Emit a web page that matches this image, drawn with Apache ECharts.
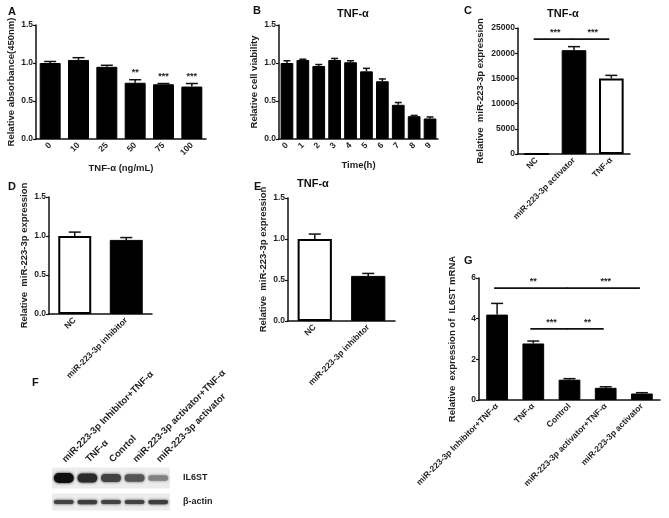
<!DOCTYPE html>
<html><head><meta charset="utf-8">
<script src="https://cdn.jsdelivr.net/npm/echarts@6/dist/echarts.min.js"></script>
<style>html,body{margin:0;padding:0;background:#fff}#c{width:669px;height:518px}</style>
</head><body><div id="c"></div>
<script>
// ---------- DATA ----------
// Panel A
const catsA = ['0','10','25','50','75','100'];
const meanA = [1.00,1.04,0.95,0.74,0.72,0.69];
const errA  = [0.02,0.03,0.02,0.04,0.01,0.04];
const sigA  = ['','','','**','***','***'];
// Panel B
const catsB = ['0','1','2','3','4','5','6','7','8','9'];
const meanB = [1.00,1.04,0.96,1.04,1.01,0.89,0.76,0.45,0.30,0.27];
const errB  = [0.03,0.01,0.02,0.02,0.02,0.04,0.03,0.03,0.01,0.02];
// Panel C
const catsC = ['NC','miR-223-3p activator','TNF-α'];
const meanC = [1,20600,15000];
const errC  = [0,700,600];
const sigC  = [[0,1,22800,'***'],[1,2,22800,'***']];
// Panel D
const catsD = ['NC','miR-223-3p inhibitor'];
const meanD = [1.00,0.95];
const errD  = [0.05,0.03];
// Panel E
const catsE = ['NC','miR-223-3p inhibitor'];
const meanE = [1.00,0.55];
const errE  = [0.06,0.03];
// Panel F (western blot, relative band intensity)
const lanesF = ['miR-223-3p Inhibitor+TNF-α','TNF-α','Conrtol','miR-223-3p activator+TNF-α','miR-223-3p activator'];
const rowsF  = ['β-actin','IL6ST'];
const il6stF = [1.0,0.85,0.72,0.62,0.38];
const actinF = [0.72,0.75,0.72,0.72,0.75];
// Panel G
const catsG = ['miR-223-3p Inhibitor+TNF-α','TNF-α','Control','miR-223-3p activator+TNF-α','miR-223-3p activator'];
const meanG = [4.2,2.78,1.0,0.6,0.32];
const errG  = [0.55,0.12,0.05,0.05,0.04];
const sigG  = [[0,2,5.5,'**'],[2,4,5.5,'***'],[1,2,3.5,'***'],[2,3,3.5,'**']];

// ---------- STYLE ----------
const FONT = '"Liberation Sans", Arial, sans-serif';
const TXT = '#1e1e1e';
const chart = echarts.init(document.getElementById('c'));

const grids = [
  {left:36, top:25, width:170, height:114},   // A
  {left:279,top:25, width:159, height:114},   // B
  {left:518,top:28, width:112, height:126},   // C
  {left:49, top:197,width:103, height:117},   // D
  {left:288,top:198,width:107, height:123},   // E
  {left:479,top:278,width:181, height:122},   // G
  {left:52, top:466,width:118, height:48}     // F
];

function xCat(idx, cats, extra){
  return Object.assign({
    type:'category', gridIndex:idx, data:cats,
    axisLine:{lineStyle:{color:'#111',width:1.5}},
    axisTick:{alignWithLabel:true,length:3,lineStyle:{color:'#111',width:1.2}},
    axisLabel:{rotate:45,interval:0,fontSize:8.5,fontWeight:'bold',color:TXT,fontFamily:FONT,margin:5,hideOverlap:false},
    nameTextStyle:{fontSize:9.5,fontWeight:'bold',color:TXT,fontFamily:FONT}
  }, extra||{});
}
function yVal(idx, max, interval, name, gap, fmt){
  return {
    type:'value', gridIndex:idx, min:0, max:max, interval:interval,
    name:name, nameLocation:'middle', nameRotate:90, nameGap:gap,
    nameTextStyle:{fontSize:9.5,fontWeight:'bold',color:TXT,fontFamily:FONT},
    axisLine:{show:true,lineStyle:{color:'#111',width:1.5}},
    axisTick:{show:true,length:3,lineStyle:{color:'#111',width:1.2}},
    splitLine:{show:false},
    axisLabel:{fontSize:8.5,fontWeight:'bold',color:TXT,fontFamily:FONT,margin:3,formatter:fmt}
  };
}
const f1 = v => v.toFixed(1);
const f0 = v => String(v);

function errRender(params, api){
  const x = api.value(0), m = api.value(1), e = api.value(2);
  const p0 = api.coord([x,m]), p1 = api.coord([x,m+e]);
  const bw = api.size([1,0])[0];
  const cap = Math.min(6, bw*0.22);
  const children = [];
  if (e > 0){
    children.push({type:'line',shape:{x1:p0[0],y1:p0[1],x2:p1[0],y2:p1[1]},style:{stroke:'#111',lineWidth:1.5}});
    children.push({type:'line',shape:{x1:p1[0]-cap,y1:p1[1],x2:p1[0]+cap,y2:p1[1]},style:{stroke:'#111',lineWidth:1.5}});
  }
  return {type:'group',children};
}
function starRender(params, api){
  const x = api.value(0), m = api.value(1), e = api.value(2);
  const p1 = api.coord([x,m+e]);
  return {type:'text',style:{text:String(sigA[params.dataIndex]||''),x:p1[0],y:p1[1]-3,align:'center',verticalAlign:'bottom',
    font:'bold 9px '+FONT,fill:TXT}};
}
function sigRender(params, api){
  const a = api.coord([api.value(0), api.value(2)]);
  const b = api.coord([api.value(1), api.value(2)]);
  const txt = params.seriesName === 'sigC' ? sigC[params.dataIndex][3] : sigG[params.dataIndex][3];
  return {type:'group',children:[
    {type:'line',shape:{x1:a[0]-3,y1:a[1],x2:b[0]-2,y2:b[1]},style:{stroke:'#111',lineWidth:1.6}},
    {type:'text',style:{text:txt,x:(a[0]+b[0])/2,y:a[1]-2,align:'center',verticalAlign:'bottom',font:'bold 9px '+FONT,fill:TXT}}
  ]};
}
function blotRender(params, api){
  const lane = api.value(0), row = api.value(1), v = api.value(2);
  const c = api.coord([lane,row]);
  const s = api.size([1,1]);
  const lw = s[0];
  const bgH = row === 1 ? 21 : 17;
  const bandH = row === 1 ? 3 + v*7 : 2 + v*3;
  const g = Math.round(200 - v*185);
  const col = 'rgb('+g+','+g+','+g+')';
  return {type:'group',children:[
    {type:'rect',shape:{x:c[0]-lw/2,y:c[1]-bgH/2,width:lw,height:bgH},style:{fill:'#ececec'}},
    {type:'rect',shape:{x:c[0]-lw*0.42,y:c[1]-bandH/2,width:lw*0.84,height:bandH,r:bandH/2},
      style:{fill:col,shadowBlur:3,shadowColor:col}}
  ]};
}

function barData(means, colors){
  return means.map((v,i)=>({value:v,itemStyle:{color:colors[i],borderColor:'#000',borderWidth:colors[i]==='#fff'?2:1}}));
}
function errData(means, errs){ return means.map((v,i)=>[i,v,errs[i]]); }
const black = n => Array(n).fill('#000');

const option = {
  animation:false,
  backgroundColor:'#fff',
  title:[
    {text:'A',left:3,top:1},{text:'B',left:248,top:0},{text:'C',left:459,top:0},
    {text:'D',left:3,top:176},{text:'E',left:249,top:176},{text:'F',left:27,top:372},{text:'G',left:459,top:250},
    {text:'TNF-α',left:332,top:3},{text:'TNF-α',left:542,top:3},{text:'TNF-α',left:292,top:173}
  ].map(t=>Object.assign(t,{textStyle:{fontSize:11,fontWeight:'bold',color:'#111',fontFamily:FONT}})),
  grid: grids,
  xAxis:[
    xCat(0,catsA,{name:'TNF-α (ng/mL)',nameLocation:'middle',nameGap:24}),
    xCat(1,catsB,{name:'Time(h)',nameLocation:'middle',nameGap:21}),
    xCat(2,catsC),
    xCat(3,catsD),
    xCat(4,catsE),
    xCat(5,catsG),
    {type:'category',gridIndex:6,data:lanesF,position:'top',axisLine:{show:false},axisTick:{show:false},
      axisLabel:{rotate:-45,interval:0,fontSize:9.5,fontWeight:'bold',color:TXT,fontFamily:FONT,margin:5}}
  ],
  yAxis:[
    yVal(0,1.5,0.5,'Relative absorbance(450nm)',20,f1),
    yVal(1,1.5,0.5,'Relative cell viability',20,f1),
    yVal(2,25000,5000,'Relative  miR-223-3p expression',33,f0),
    yVal(3,1.5,0.5,'Relative  miR-223-3p expression',20,f1),
    yVal(4,1.5,0.5,'Relative  miR-223-3p expression',20,f1),
    yVal(5,6,2,'Relative  expression of  IL6ST mRNA',22,f0),
    {type:'category',gridIndex:6,data:rowsF,position:'right',axisLine:{show:false},axisTick:{show:false},
      axisLabel:{fontSize:9,fontWeight:'bold',color:TXT,fontFamily:FONT,margin:13}}
  ],
  series:[
    {type:'bar',xAxisIndex:0,yAxisIndex:0,barWidth:'74%',data:barData(meanA,black(6))},
    {type:'custom',xAxisIndex:0,yAxisIndex:0,renderItem:errRender,data:errData(meanA,errA),z:5},
    {type:'custom',xAxisIndex:0,yAxisIndex:0,renderItem:starRender,data:errData(meanA,errA),z:5},
    {type:'bar',xAxisIndex:1,yAxisIndex:1,barWidth:'80%',data:barData(meanB,black(10))},
    {type:'custom',xAxisIndex:1,yAxisIndex:1,renderItem:errRender,data:errData(meanB,errB),z:5},
    {type:'bar',xAxisIndex:2,yAxisIndex:2,barWidth:'66%',data:barData(meanC,['#fff','#000','#fff'])},
    {type:'custom',xAxisIndex:2,yAxisIndex:2,renderItem:errRender,data:errData(meanC,errC),z:5},
    {type:'custom',name:'sigC',xAxisIndex:2,yAxisIndex:2,renderItem:sigRender,data:sigC.map(s=>[s[0],s[1],s[2]]),z:5},
    {type:'bar',xAxisIndex:3,yAxisIndex:3,barWidth:'64%',data:barData(meanD,['#fff','#000'])},
    {type:'custom',xAxisIndex:3,yAxisIndex:3,renderItem:errRender,data:errData(meanD,errD),z:5},
    {type:'bar',xAxisIndex:4,yAxisIndex:4,barWidth:'64%',data:barData(meanE,['#fff','#000'])},
    {type:'custom',xAxisIndex:4,yAxisIndex:4,renderItem:errRender,data:errData(meanE,errE),z:5},
    {type:'bar',xAxisIndex:5,yAxisIndex:5,barWidth:'60%',data:barData(meanG,black(5))},
    {type:'custom',xAxisIndex:5,yAxisIndex:5,renderItem:errRender,data:errData(meanG,errG),z:5},
    {type:'custom',name:'sigG',xAxisIndex:5,yAxisIndex:5,renderItem:sigRender,data:sigG.map(s=>[s[0],s[1],s[2]]),z:5},
    {type:'custom',xAxisIndex:6,yAxisIndex:6,renderItem:blotRender,
      data:il6stF.map((v,i)=>[i,1,v]).concat(actinF.map((v,i)=>[i,0,v]))}
  ]
};
chart.setOption(option);
</script></body></html>
